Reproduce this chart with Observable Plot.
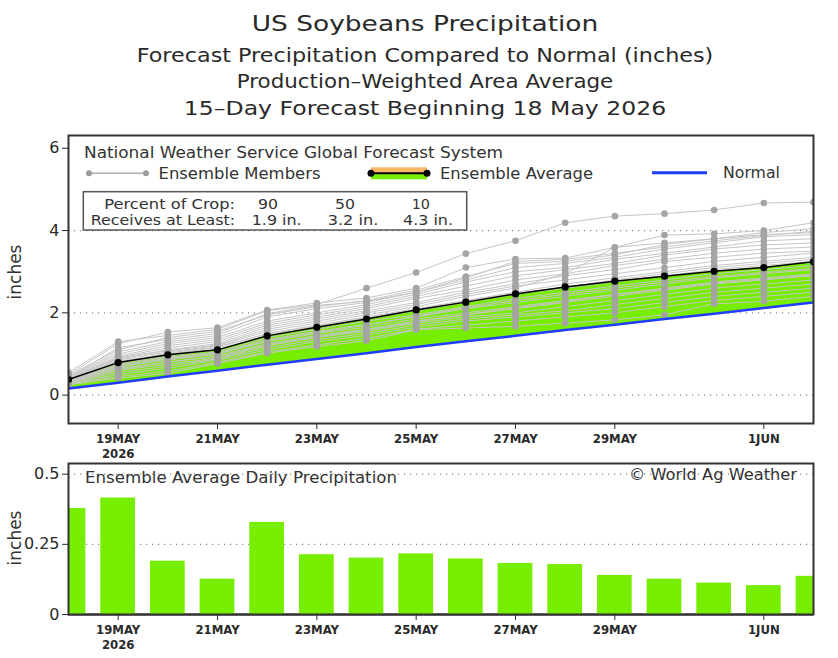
<!DOCTYPE html>
<html><head><meta charset="utf-8">
<script src="https://cdn.jsdelivr.net/npm/d3@7"></script>
<script src="https://cdn.jsdelivr.net/npm/@observablehq/plot@0.6"></script>
<style>
html,body{margin:0;padding:0;background:#fff;}
#wrap{position:relative;width:838px;height:658px;overflow:hidden;background:#fff;}
#wrap svg{position:absolute;left:0;}
</style></head><body><div id="wrap"></div>
<script>
// ---------------- data ----------------
const dates = ["2026-05-18","2026-05-19","2026-05-20","2026-05-21","2026-05-22","2026-05-23","2026-05-24","2026-05-25",
               "2026-05-26","2026-05-27","2026-05-28","2026-05-29","2026-05-30","2026-05-31","2026-06-01","2026-06-02"];
const ensembleAverage = [0.38,0.79,0.98,1.10,1.44,1.65,1.85,2.07,2.26,2.46,2.63,2.77,2.89,3.01,3.10,3.24];
const normalPrecip    = [0.16,0.30,0.45,0.59,0.74,0.88,1.02,1.17,1.31,1.44,1.58,1.71,1.85,1.98,2.12,2.25];
const dailyAverage    = [0.378,0.415,0.190,0.126,0.328,0.213,0.201,0.216,0.198,0.182,0.178,0.139,0.126,0.112,0.103,0.136];
const members = [
  [0.55,1.30,1.45,1.60,2.05,2.20,2.60,2.98,3.44,3.75,4.19,4.35,4.41,4.50,4.67,4.69],
  [0.50,1.25,1.53,1.64,2.07,2.24,2.36,2.60,3.10,3.31,3.33,3.59,3.89,3.92,4.00,4.19],
  [0.48,1.10,1.40,1.55,1.95,2.15,2.30,2.55,2.88,3.20,3.25,3.41,3.66,3.80,3.95,4.05],
  [0.45,1.05,1.30,1.45,1.90,2.10,2.25,2.50,2.80,3.10,3.20,3.35,3.55,3.70,3.85,3.90],
  [0.44,1.00,1.25,1.40,1.80,2.00,2.20,2.45,2.75,3.00,3.10,3.30,3.45,3.60,3.75,3.80],
  [0.42,0.95,1.20,1.35,1.75,1.95,2.15,2.40,2.65,2.90,3.05,3.20,3.40,3.55,3.65,3.70],
  [0.40,0.92,1.15,1.30,1.70,1.90,2.10,2.35,2.55,2.80,2.95,3.15,3.30,3.45,3.55,3.60],
  [0.40,0.90,1.10,1.25,1.65,1.85,2.05,2.25,2.50,2.70,2.90,3.05,3.25,3.35,3.45,3.50],
  [0.38,0.85,1.05,1.20,1.55,1.75,1.95,2.15,2.40,2.60,2.95,3.59,3.70,3.80,3.90,3.95],
  [0.38,0.82,1.00,1.15,1.50,1.70,1.90,2.10,2.30,2.50,2.70,2.85,3.00,3.15,3.25,3.35],
  [0.36,0.78,0.95,1.10,1.45,1.65,1.85,2.05,2.25,2.45,2.60,2.75,2.90,3.05,3.15,3.25],
  [0.35,0.75,0.92,1.05,1.40,1.60,1.80,1.95,2.15,2.35,2.50,2.65,2.80,2.95,3.05,3.15],
  [0.34,0.72,0.90,1.02,1.35,1.55,1.72,1.90,2.10,2.25,2.40,2.55,2.70,2.85,2.95,3.05],
  [0.33,0.70,0.85,1.00,1.30,1.50,1.65,1.85,2.00,2.15,2.30,2.45,2.60,2.75,2.85,2.95],
  [0.32,0.65,0.80,0.95,1.25,1.45,1.60,1.80,1.95,2.10,2.25,2.40,2.55,2.70,2.80,2.90],
  [0.30,0.60,0.75,0.90,1.20,1.40,1.55,1.75,1.90,2.00,2.15,2.30,2.45,2.60,2.70,2.80],
  [0.30,0.55,0.70,0.88,1.15,1.35,1.50,1.70,1.85,1.95,2.05,2.20,2.35,2.50,2.60,2.70],
  [0.28,0.50,0.65,0.85,1.10,1.30,1.45,1.65,1.80,1.90,2.00,2.10,2.25,2.40,2.50,2.60],
  [0.27,0.45,0.58,0.80,1.05,1.22,1.38,1.60,1.70,1.80,1.90,2.00,2.15,2.30,2.40,2.50],
  [0.25,0.41,0.53,0.77,1.02,1.18,1.32,1.59,1.63,1.67,1.75,1.83,1.95,2.22,2.28,2.40],
  [0.37,0.88,1.08,1.22,1.60,1.80,2.00,2.20,2.45,2.65,2.80,2.95,3.10,3.25,3.35,3.45],
  [0.35,0.80,1.02,1.18,1.48,1.68,1.88,2.08,2.28,2.48,2.62,2.80,2.95,3.10,3.20,3.30],
  [0.33,0.68,0.88,1.00,1.32,1.52,1.70,1.92,2.12,2.30,2.45,2.60,2.75,2.88,2.98,3.08],
  [0.31,0.62,0.80,0.94,1.22,1.42,1.58,1.78,1.96,2.12,2.28,2.44,2.58,2.72,2.82,2.92],
  [0.43,1.15,1.35,1.50,1.98,2.18,2.28,2.50,2.85,3.25,3.30,3.45,3.60,3.75,3.88,3.98]
];
const tickDates = ["2026-05-19","2026-05-21","2026-05-23","2026-05-25","2026-05-27","2026-05-29","2026-06-01"];
const monthNames = ["JAN","FEB","MAR","APR","MAY","JUN","JUL","AUG","SEP","OCT","NOV","DEC"];
const upperTicks = [0,2,4,6];
const lowerTicks = [0,0.25,0.5];
const titleLines = ["US Soybeans Precipitation",
                    "Forecast Precipitation Compared to Normal (inches)",
                    "Production\u2013Weighted Area Average",
                    "15\u2013Day Forecast Beginning 18 May 2026"];
const cropPercent = ["90","50","10"];
const cropAmount  = ["1.9 in.","3.2 in.","4.3 in."];

// ---------------- build ----------------
const DAY = 864e5;
const parse = s => new Date(s + "T00:00:00Z");
const rows = dates.map((d,i)=>({date: parse(d), avg: ensembleAverage[i], normal: normalPrecip[i], daily: dailyAverage[i]}));
const memberRows = members.flatMap((m,k)=> m.map((v,i)=>({member:k, date: parse(dates[i]), value:v})));
const xDomain = [parse(dates[0]), parse(dates[dates.length-1])];
const ticks = tickDates.map(parse);
const fmt = d => d.getUTCDate() + monthNames[d.getUTCMonth()] + (+d === +ticks[0] ? "\n" + d.getUTCFullYear() : "");
const green = "#77ee00";
const textColor = "#333";
const dotted = {stroke:"#888", strokeDasharray:"1.2,4.8", strokeWidth:1.2};
const xAxisOpts = {ticks: ticks, tickFormat: fmt, tickSize:6, tickPadding:3, fontSize:13, lineHeight:1.15, fontWeight:"bold",
                   fontFamily:"Liberation Sans Narrow, DejaVu Sans Condensed, sans-serif", label:null};
const wrap = document.getElementById("wrap");

const upper = Plot.plot({
  width: 838, height: 345,
  marginTop: 15, marginBottom: 42, marginLeft: 68, marginRight: 25,
  style: {fontFamily: "DejaVu Sans, sans-serif", background: "transparent", color:"#2a2a2a"},
  x: {type: "utc", domain: xDomain},
  y: {domain: [-0.69, 6.31]},
  marks: [
    Plot.ruleY([0,2,4], dotted),
    Plot.areaY(rows, {x:"date", y1:"normal", y2:"avg", fill: green, clip:true}),
    Plot.line(memberRows, {x:"date", y:"value", z:"member", stroke:"#c6c6c6", strokeWidth:1, clip:true}),
    Plot.dot(memberRows, {x:"date", y:"value", r:3.3, fill:"#a4a4a4", stroke:null, clip:true}),
    Plot.line(rows, {x:"date", y:"normal", stroke:"#1f3cff", strokeWidth:2.5, clip:true}),
    Plot.line(rows, {x:"date", y:"avg", stroke:"#000", strokeWidth:1.5, clip:true}),
    Plot.dot(rows, {x:"date", y:"avg", r:3.6, fill:"#000", stroke:null, clip:true}),
    Plot.axisY({ticks: upperTicks, tickSize:6, tickPadding:3, fontSize:16, label:null, tickFormat: d => String(d)}),
    Plot.axisX(xAxisOpts),
    Plot.frame({stroke:"#333", strokeWidth:2})
  ]
});
upper.style.top = "120px";
wrap.appendChild(upper);

const lower = Plot.plot({
  width: 838, height: 203,
  marginTop: 8, marginBottom: 44, marginLeft: 68, marginRight: 25,
  style: {fontFamily: "DejaVu Sans, sans-serif", background: "transparent", color:"#2a2a2a"},
  x: {type: "utc", domain: xDomain},
  y: {domain: [0, 0.538]},
  marks: [
    Plot.ruleY([0.25,0.5], dotted),
    Plot.ruleY([0], {stroke:"#222", strokeWidth:2}),
    Plot.rectY(rows, {x1: d => new Date(+d.date - 0.35*DAY), x2: d => new Date(+d.date + 0.35*DAY),
                      y1: 0, y2: "daily", fill: green, clip:true}),
    Plot.ruleY([0], {stroke:"#444", strokeDasharray:"1.2,3", strokeWidth:1.5}),
    Plot.axisY({ticks: lowerTicks, tickSize:6, tickPadding:3, fontSize:16, label:null, tickFormat: d => String(d)}),
    Plot.axisX(xAxisOpts),
    Plot.frame({stroke:"#333", strokeWidth:2})
  ]
});
lower.style.top = "455px";
wrap.appendChild(lower);

// ---------------- overlay: titles and legend ----------------
const ov = d3.select(wrap).append("svg")
  .attr("width", 838).attr("height", 658).style("top","0px")
  .style("font-family","DejaVu Sans, sans-serif");
function txt(s, x, y, size, len, anchor="start", fill=textColor) {
  const t = ov.append("text").attr("x", x).attr("y", y).attr("dy","0.36em")
    .attr("font-size", size).attr("fill", fill).attr("text-anchor", anchor).text(s);
  if (len) t.attr("textLength", len).attr("lengthAdjust","spacingAndGlyphs");
  return t;
}
// titles
txt(titleLines[0], 425, 23.3, 22, 346.6, "middle", "#2a2a2a");
txt(titleLines[1], 425, 55, 19.5, 576.6, "middle", "#2a2a2a");
txt(titleLines[2], 425, 81, 19.5, 376.6, "middle", "#2a2a2a");
txt(titleLines[3], 425, 108.3, 19.5, 482.4, "middle", "#2a2a2a");

// legend row 1
txt("National Weather Service Global Forecast System", 84, 153, 15, 419);
// ensemble members symbol
ov.append("line").attr("x1",89).attr("x2",146).attr("y1",173.3).attr("y2",173.3).attr("stroke","#b0b0b0").attr("stroke-width",1.5);
ov.append("circle").attr("cx",89).attr("cy",173.3).attr("r",3).attr("fill","#9c9c9c");
ov.append("circle").attr("cx",146).attr("cy",173.3).attr("r",3).attr("fill","#9c9c9c");
txt("Ensemble Members", 158.5, 173.3, 15, 162);
// ensemble average symbol
ov.append("rect").attr("x",371).attr("y",167.3).attr("width",56).attr("height",6).attr("fill","#f6b866");
ov.append("rect").attr("x",371).attr("y",173.3).attr("width",56).attr("height",6).attr("fill",green);
ov.append("line").attr("x1",371).attr("x2",427).attr("y1",173.3).attr("y2",173.3).attr("stroke","#000").attr("stroke-width",2);
ov.append("circle").attr("cx",371).attr("cy",173.3).attr("r",3.5).attr("fill","#000");
ov.append("circle").attr("cx",427).attr("cy",173.3).attr("r",3.5).attr("fill","#000");
txt("Ensemble Average", 440, 173.3, 15, 153);
// normal symbol
ov.append("line").attr("x1",652).attr("x2",707).attr("y1",172.7).attr("y2",172.7).attr("stroke","#1f3cff").attr("stroke-width",3);
txt("Normal", 723, 172.7, 15, 57);
// crop box
ov.append("rect").attr("x",83.3).attr("y",191.7).attr("width",383.4).attr("height",38.3)
  .attr("fill","#fff").attr("stroke","#555").attr("stroke-width",1.5);
txt("Percent of Crop:", 104.3, 204, 14, 130.7);
txt("Receives at Least:", 90.7, 220, 14, 144.3);
const pctX = [[258,20],[335,20],[411.7,18.3]];
const amtX = [[251.7,50],[327.7,50.6],[403,50]];
cropPercent.forEach((s,i)=> txt(s, pctX[i][0], 204, 14, pctX[i][1]));
cropAmount.forEach((s,i)=> txt(s, amtX[i][0], 220, 14, amtX[i][1]));

// lower panel annotations
txt("Ensemble Average Daily Precipitation", 85, 477.3, 15, 312);
txt("\u00A9 World Ag Weather", 629, 475, 15, 168);

// y-axis labels
ov.append("text").attr("transform","translate(15,272) rotate(-90)").attr("text-anchor","middle").attr("dy","0.36em")
  .attr("font-size",17).attr("fill",textColor).text("inches");
ov.append("text").attr("transform","translate(15,538) rotate(-90)").attr("text-anchor","middle").attr("dy","0.36em")
  .attr("font-size",17).attr("fill",textColor).text("inches");
</script>
</body></html>
